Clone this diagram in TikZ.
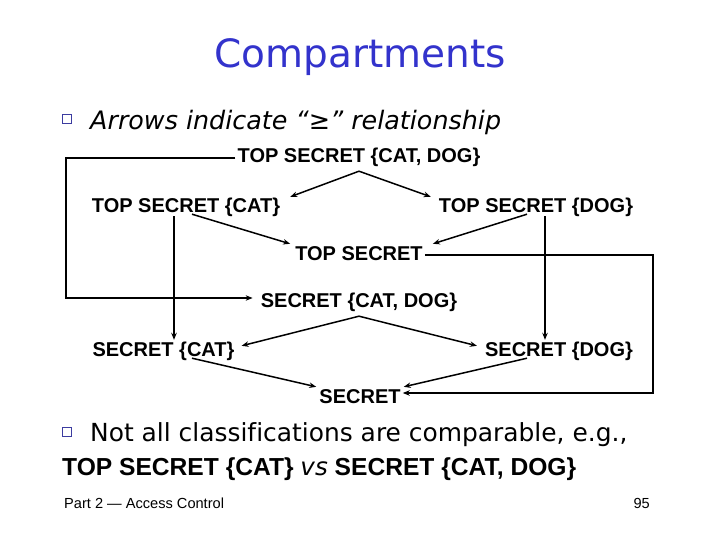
\documentclass[tikz,border=0pt]{standalone}
\usepackage{fontspec}
\setmainfont{Liberation Sans}
\newfontfamily\djv[Ligatures=NoCommon]{DejaVu Sans}
\usetikzlibrary{arrows.meta,calc}
\definecolor{titleblue}{RGB}{51,51,204}
\definecolor{bulletblue}{RGB}{60,60,160}
\tikzset{
  lvl/.style={inner sep=2pt, text height=14pt, text depth=4pt, font=\fontsize{20}{22}\selectfont\bfseries},
  arr/.style={line width=1.5pt, -{Stealth[length=7pt,width=5.5pt]}},
  larr/.style={line width=1.3pt, -{Stealth[length=7pt,width=5.5pt]}},
  bullet/.style={draw=bulletblue, line width=1.4pt, fill=white, minimum size=9pt, inner sep=0pt},
}
\begin{document}
\begin{tikzpicture}[x=1pt,y=-1pt]
\useasboundingbox (0,0) rectangle (720,540);
% title
\node[font=\djv\fontsize{39}{44}\selectfont, text=titleblue] (title) at (360,57) {Compartments};
% bullet 1
\node[bullet] (b1) at (67,119) {};
\node[anchor=base west, inner sep=0pt, font=\djv\itshape\fontsize{25.4}{28}\selectfont] (t1) at (90,130) {Arrows indicate “≥” relationship};
% lattice
\node[lvl] (tscd) at (359,158) {TOP SECRET \{CAT, DOG\}};
\node[lvl] (tsc)  at (186,208) {TOP SECRET \{CAT\}};
\node[lvl] (tsd)  at (536,208) {TOP SECRET \{DOG\}};
\node[lvl] (ts)   at (359,255) {TOP SECRET};
\node[lvl] (scd)  at (359,302) {SECRET \{CAT, DOG\}};
\node[lvl] (sc)   at (163.5,351) {SECRET \{CAT\}};
\node[lvl] (sd)   at (559,351) {SECRET \{DOG\}};
\node[lvl] (s)    at (360,398) {SECRET};
\coordinate (lc) at (66,0);
\coordinate (rc) at (653,0);
% diagonal arrows
\draw[arr] ([yshift=-2pt]tscd.south) -- ([xshift=8pt]tsc.north east);
\draw[arr] ([yshift=-2pt]tscd.south) -- ([xshift=-6pt]tsd.north west);
\draw[arr] ([xshift=6pt,yshift=5pt]tsc.south) -- ([xshift=-3pt]ts.north west);
\draw[arr] ([xshift=-9pt,yshift=5pt]tsd.south) -- ([xshift=8pt]ts.north east);
\draw[arr] ([yshift=-3pt]scd.south) -- ([xshift=5pt,yshift=-6pt]sc.north east);
\draw[arr] ([yshift=-3pt]scd.south) -- ([xshift=-6pt,yshift=-6pt]sd.north west);
\draw[arr] ([xshift=28.5pt,yshift=4pt]sc.south) -- ([xshift=-1pt]s.north west);
\draw[arr] ([xshift=-32pt,yshift=4pt]sd.south) -- ([xshift=1pt]s.north east);
% vertical arrows
\draw[larr] ([xshift=-12pt,yshift=3pt]tsc.south) coordinate (v1) -- (v1 |- sc.north);
\draw[larr] ([xshift=9pt,yshift=3pt]tsd.south) coordinate (v2) -- (v2 |- sd.north);
% long connectors
\draw[larr] (tscd.west) -- (tscd.west -| lc) |- ([xshift=-6pt,yshift=4pt]scd.west);
\draw[larr] (ts.east) -- (ts.east -| rc) |- ([yshift=5pt]s.east);
% bullet 2
\node[bullet] (b2) at (67,432) {};
\node[anchor=base west, inner sep=0pt, font=\djv\fontsize{24.9}{28}\selectfont] (t2) at (90,441) {Not all classifications are comparable, e.g.,};
\node[anchor=base west, inner sep=0pt, font=\fontsize{24.6}{28}\selectfont\bfseries] (t3) at (62,475) {TOP SECRET \{CAT\} {\djv\mdseries\itshape vs} SECRET \{CAT, DOG\}};
% footer
\node[anchor=base west, inner sep=0pt, font=\fontsize{14.6}{16}\selectfont] (foot) at (64,508) {Part 2 — Access Control};
\node[anchor=base east, inner sep=0pt, font=\fontsize{14.6}{16}\selectfont] (page) at (650,508) {95};
\end{tikzpicture}
\end{document}
